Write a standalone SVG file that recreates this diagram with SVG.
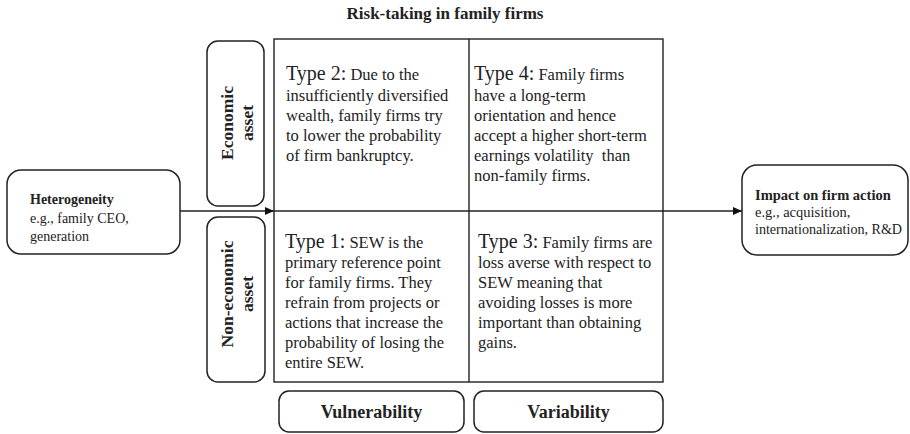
<svg xmlns="http://www.w3.org/2000/svg" width="910" height="434" viewBox="0 0 910 434" font-family="'Liberation Serif', 'Times New Roman', serif">
  <defs>
    <marker id="arrow" markerUnits="userSpaceOnUse" markerWidth="9" markerHeight="8" refX="9" refY="4" orient="auto">
      <path d="M0,0 L9,4 L0,8 z" fill="#111"/>
    </marker>
    <style>
      text, tspan { font-family: "Liberation Serif", "Times New Roman", serif; }
      text { fill: #222; }
      .title { font-size: 17px; font-weight: bold; }
      .box { fill: #fff; stroke: #222; stroke-width: 1.5; }
      .grid { fill: none; stroke: #222; stroke-width: 1.4; }
      .lbl { font-size: 17.5px; font-weight: bold; }
      .axis { font-size: 18px; font-weight: bold; }
      .cell { font-size: 16.5px; }
      .type { font-size: 20px; }
      .side { font-size: 14px; }
      .sideb { font-weight: bold; }
      .conn { stroke: #222; stroke-width: 1.4; fill: none; }
    </style>
  </defs>
  <rect width="910" height="434" fill="#fff"/>

  <text class="title" x="445" y="19" text-anchor="middle">Risk-taking in family firms</text>

  <!-- 2x2 matrix -->
  <g id="matrix">
    <rect class="grid" x="274" y="39" width="389" height="343"/>
    <line class="grid" x1="469" y1="39" x2="469" y2="382"/>
    <line class="grid" x1="274" y1="211" x2="663" y2="211"/>
  </g>

  <g id="type2">
    <text class="cell" x="286">
      <tspan x="286" y="80"><tspan class="type">Type 2:</tspan> Due to the</tspan>
      <tspan x="286" y="100.5">insufficiently diversified</tspan>
      <tspan x="286" y="121">wealth, family firms try</tspan>
      <tspan x="286" y="141">to lower the probability</tspan>
      <tspan x="286" y="161">of firm bankruptcy.</tspan>
    </text>
  </g>

  <g id="type4">
    <text class="cell" x="474">
      <tspan x="474" y="80"><tspan class="type">Type 4:</tspan> Family firms</tspan>
      <tspan x="474" y="100.5">have a long-term</tspan>
      <tspan x="474" y="120.5">orientation and hence</tspan>
      <tspan x="474" y="140.5">accept a higher short-term</tspan>
      <tspan x="474" y="160.5">earnings volatility&#160; than</tspan>
      <tspan x="474" y="180.5">non-family firms.</tspan>
    </text>
  </g>

  <g id="type1">
    <text class="cell" x="285">
      <tspan x="285" y="248"><tspan class="type">Type 1:</tspan> SEW is the</tspan>
      <tspan x="285" y="268">primary reference point</tspan>
      <tspan x="285" y="288">for family firms. They</tspan>
      <tspan x="285" y="308">refrain from projects or</tspan>
      <tspan x="285" y="328">actions that increase the</tspan>
      <tspan x="285" y="348">probability of losing the</tspan>
      <tspan x="285" y="368">entire SEW.</tspan>
    </text>
  </g>

  <g id="type3">
    <text class="cell" x="478">
      <tspan x="478" y="248"><tspan class="type">Type 3:</tspan> Family firms are</tspan>
      <tspan x="478" y="268">loss averse with respect to</tspan>
      <tspan x="478" y="288">SEW meaning that</tspan>
      <tspan x="478" y="308">avoiding losses is more</tspan>
      <tspan x="478" y="328">important than obtaining</tspan>
      <tspan x="478" y="348">gains.</tspan>
    </text>
  </g>

  <!-- row labels -->
  <g id="economic-asset">
    <rect class="box" x="207" y="41" width="57" height="165" rx="11"/>
    <g transform="translate(233,123) rotate(-90)">
      <text class="lbl" x="0" y="0" text-anchor="middle">Economic</text>
      <text class="lbl" x="0" y="20" text-anchor="middle">asset</text>
    </g>
  </g>

  <g id="non-economic-asset">
    <rect class="box" x="207" y="217" width="58" height="165" rx="11"/>
    <g transform="translate(233,294) rotate(-90)">
      <text class="lbl" x="0" y="0" text-anchor="middle">Non-economic</text>
      <text class="lbl" x="0" y="20" text-anchor="middle">asset</text>
    </g>
  </g>

  <!-- column labels -->
  <g id="vulnerability">
    <rect class="box" x="279" y="391" width="185" height="41" rx="10"/>
    <text class="axis" x="371.5" y="418" text-anchor="middle">Vulnerability</text>
  </g>

  <g id="variability">
    <rect class="box" x="474" y="391" width="189" height="41" rx="10"/>
    <text class="axis" x="568.5" y="418" text-anchor="middle">Variability</text>
  </g>

  <!-- input / output -->
  <g id="heterogeneity">
    <rect class="box" x="7" y="170" width="173" height="84" rx="14"/>
    <text class="side" x="30" y="204"><tspan class="sideb">Heterogeneity</tspan></text>
    <text class="side" x="30" y="222.5">e.g., family CEO,</text>
    <text class="side" x="30" y="241">generation</text>
  </g>

  <g id="impact">
    <rect class="box" x="742" y="165" width="166" height="90" rx="15"/>
    <text class="side" x="755" y="200" style="font-size:14.5px"><tspan class="sideb">Impact on firm action</tspan></text>
    <text class="side" x="755" y="217" style="font-size:14.5px">e.g., acquisition,</text>
    <text class="side" x="755" y="234" style="font-size:14px" textLength="147" lengthAdjust="spacingAndGlyphs">internationalization, R&amp;D</text>
  </g>

  <g id="connectors">
    <line class="conn" x1="180" y1="211" x2="274" y2="211" marker-end="url(#arrow)"/>
    <line class="conn" x1="663" y1="211" x2="742" y2="211" marker-end="url(#arrow)"/>
  </g>
</svg>
